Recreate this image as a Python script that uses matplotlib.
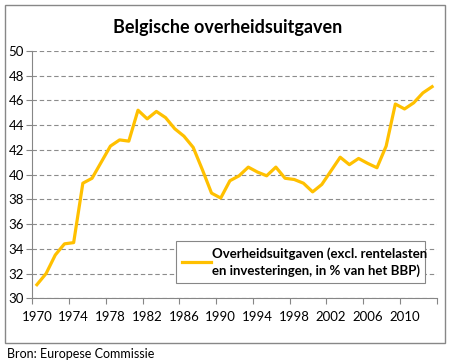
import matplotlib
matplotlib.use('Agg')
import matplotlib.pyplot as plt
from matplotlib.patches import Rectangle
from matplotlib.ticker import FixedLocator, NullFormatter

plt.rcParams['font.family'] = ['Lato', 'DejaVu Sans']

# data
years = list(range(1970, 2014))
uitgaven = [31.1, 32.0, 33.5, 34.4, 34.5, 39.3, 39.7, 41.0, 42.3, 42.8,
            42.7, 45.2, 44.5, 45.1, 44.6, 43.7, 43.1, 42.2, 40.4, 38.5,
            38.1, 39.5, 39.9, 40.6, 40.2, 39.9, 40.6, 39.7, 39.6, 39.3,
            38.6, 39.2, 40.3, 41.4, 40.8, 41.3, 40.9, 40.55, 42.3, 45.7,
            45.3, 45.8, 46.6, 47.1]
yticks = list(range(30, 51, 2))
label_years = list(range(1970, 2011, 4))
legend_text = 'Overheidsuitgaven (excl. rentelasten\nen investeringen, in % van het BBP)'

W, H = 456, 363
fig = plt.figure(figsize=(W / 100, H / 100), dpi=100)

# outer chart border
fig.patches.append(Rectangle((5 / W, 1 - 343 / H), 440 / W, 338 / H,
                             transform=fig.transFigure, fill=False,
                             edgecolor='#878787', linewidth=1.0))

ax = fig.add_axes([32.3 / W, 1 - 298.3 / H, 404.4 / W, 247.5 / H])
x = list(range(len(years)))
ax.plot(x, uitgaven, color='#FFC000', linewidth=2.3, solid_joinstyle='round')

ax.set_xlim(-0.5, len(years) - 0.5)
ax.set_ylim(30, 50)
ax.set_yticks(yticks)
ax.grid(axis='y', linestyle=(0, (4, 2.5)), color='#8c8c8c', linewidth=0.8)
ax.set_axisbelow(True)

# category axis: ticks between categories, labels on categories
ax.xaxis.set_major_locator(FixedLocator([i - 0.5 for i in range(0, len(years) + 1, 4)]))
ax.xaxis.set_major_formatter(NullFormatter())
ax.xaxis.set_minor_locator(FixedLocator([years.index(y) for y in label_years]))
ax.set_xticklabels([str(y) for y in label_years], minor=True)
ax.tick_params(axis='x', which='major', length=4, color='#868686', direction='out')
ax.tick_params(axis='x', which='minor', length=0, pad=9, labelsize=9.5)
ax.tick_params(axis='y', length=4, color='#868686', labelsize=9.5, pad=2)

for s in ['top', 'right']:
    ax.spines[s].set_visible(False)
for s in ['left', 'bottom']:
    ax.spines[s].set_color('#868686')

leg = ax.legend([legend_text], loc='lower left',
                bbox_to_anchor=(176 / W, 1 - 283 / H, 249 / W, 42 / H),
                bbox_transform=fig.transFigure, mode='expand',
                fancybox=False, edgecolor='#878787', framealpha=1,
                handlelength=2.2, handletextpad=0.1, borderaxespad=0,
                borderpad=0.45, prop={'size': 9.5, 'weight': 'bold'})
leg.get_frame().set_linewidth(0.8)
leg.get_texts()[0].set_linespacing(1.45)

fig.text(0.5, 1 - 27 / H, 'Belgische overheidsuitgaven', ha='center', va='center',
         fontsize=13, fontweight='bold')
fig.text(7 / W, 1 - 354 / H, 'Bron: Europese Commissie', ha='left', va='center',
         fontsize=9)

fig.savefig('out.png', dpi=100)
